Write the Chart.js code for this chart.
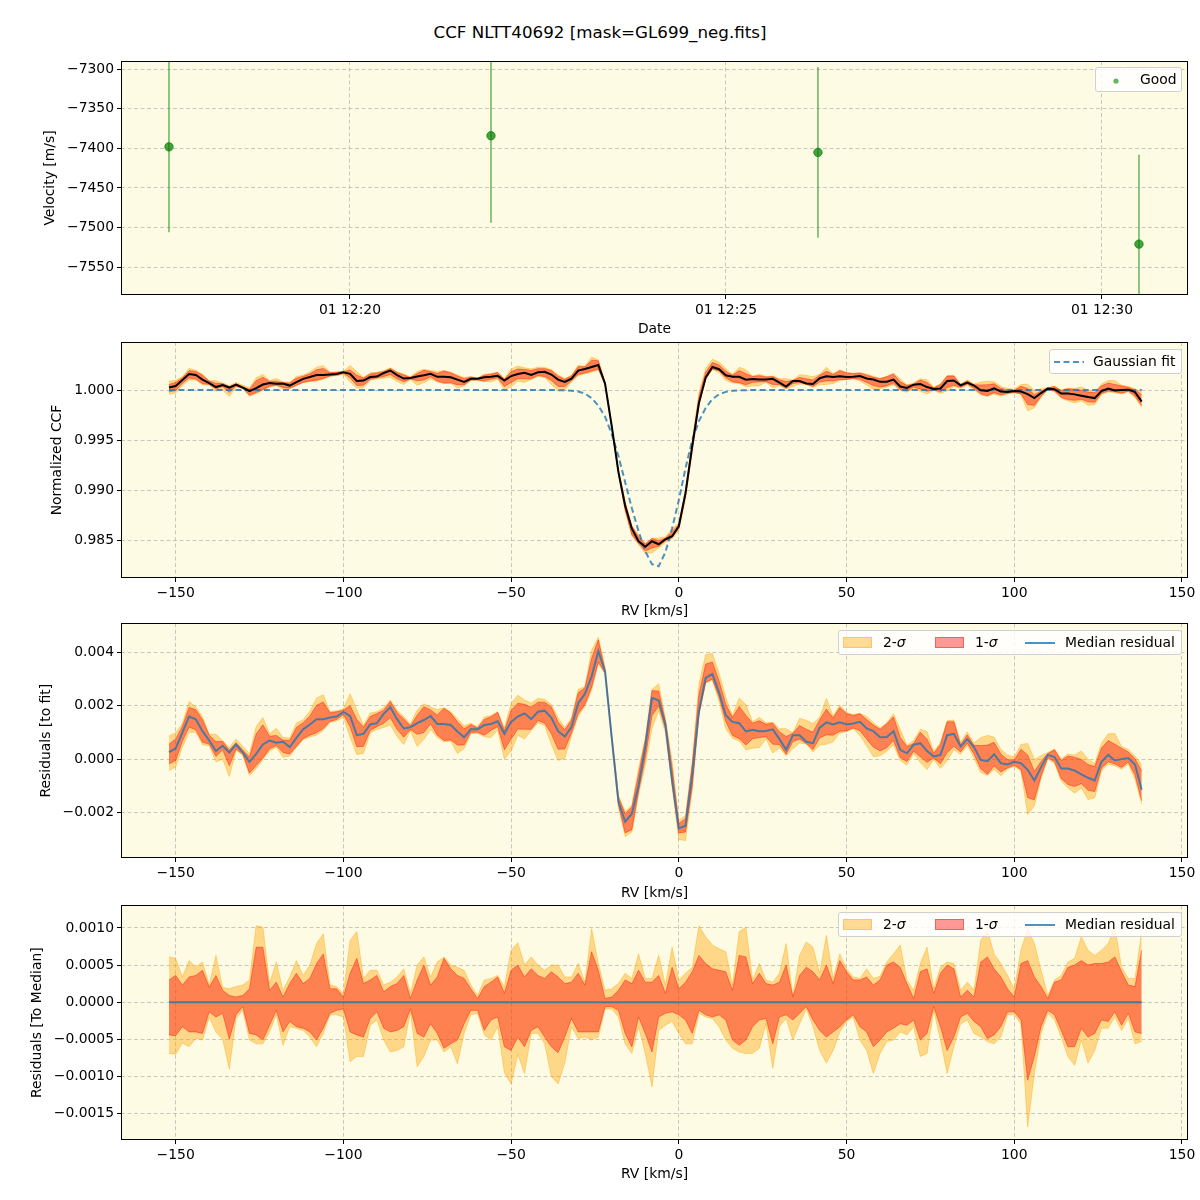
<!DOCTYPE html>
<html lang="en">
<head>
  <meta charset="UTF-8">
  <title>CCF NLTT40692</title>
  <script src="https://cdn.jsdelivr.net/npm/chart.js"></script>
  <style>
    html, body { margin: 0; padding: 0; background: #fff; }
    body { position: relative; width: 1200px; height: 1200px; overflow: hidden; font-family: "DejaVu Sans", sans-serif; color: #000; }
    canvas { position: absolute; left: 0; }
    .suptitle { position: absolute; left: 0; width: 1200px; top: 22px; line-height: 20px; text-align: center; font-size: 16.7px; }
    .leg { position: absolute; background: rgba(255,255,255,0.8); border: 1px solid #d0d0d0; border-radius: 3px; box-sizing: border-box; font-size: 13.9px; }
    .leg > * { position: absolute; }
    .leg span { line-height: 23px; top: 0; white-space: nowrap; }
    .patch { box-sizing: border-box; }
  </style>
</head>
<body>
  <div class="suptitle">CCF NLTT40692 [mask=GL699_neg.fits]</div>

  <canvas id="velChart" width="1200" height="310" style="top:40px"></canvas>
  <canvas id="ccfChart" width="1200" height="292" style="top:330px"></canvas>
  <canvas id="residChart" width="1200" height="292" style="top:612px"></canvas>
  <canvas id="medChart" width="1200" height="306" style="top:894px"></canvas>

  <!-- legends -->
  <div class="leg" style="left:1095px;top:67px;width:87px;height:25px">
    <svg style="left:15px;top:8px" width="10" height="10"><circle cx="5" cy="5" r="2.6" fill="rgba(0,128,0,0.6)"/></svg>
    <span style="left:44px">Good</span>
  </div>
  <div class="leg" style="left:1049px;top:349px;width:133px;height:25px">
    <svg style="left:4px;top:10px" width="30" height="4"><line x1="0" y1="2" x2="30" y2="2" stroke="rgba(31,119,180,0.8)" stroke-width="2" stroke-dasharray="6,3.5"/></svg>
    <span style="left:43px">Gaussian fit</span>
  </div>
  <div class="leg" style="left:838px;top:630px;width:344px;height:25px">
    <div class="patch" style="left:4px;top:6px;width:29px;height:11px;background:rgba(255,165,0,0.4);border:1px solid rgba(255,165,0,0.4)"></div>
    <span style="left:44px">2-<i>σ</i></span>
    <div class="patch" style="left:96px;top:6px;width:29px;height:11px;background:rgba(255,0,0,0.4);border:1px solid rgba(255,0,0,0.4)"></div>
    <span style="left:136px">1-<i>σ</i></span>
    <svg style="left:186px;top:10px" width="30" height="4"><line x1="0" y1="2" x2="30" y2="2" stroke="rgba(31,119,180,0.8)" stroke-width="2"/></svg>
    <span style="left:226px">Median residual</span>
  </div>
  <div class="leg" style="left:838px;top:912px;width:344px;height:25px">
    <div class="patch" style="left:4px;top:6px;width:29px;height:11px;background:rgba(255,165,0,0.4);border:1px solid rgba(255,165,0,0.4)"></div>
    <span style="left:44px">2-<i>σ</i></span>
    <div class="patch" style="left:96px;top:6px;width:29px;height:11px;background:rgba(255,0,0,0.4);border:1px solid rgba(255,0,0,0.4)"></div>
    <span style="left:136px">1-<i>σ</i></span>
    <svg style="left:186px;top:10px" width="30" height="4"><line x1="0" y1="2" x2="30" y2="2" stroke="rgba(31,119,180,0.8)" stroke-width="2"/></svg>
    <span style="left:226px">Median residual</span>
  </div>

  <script>
    // ---- top panel: RV per exposure (minutes after 12:00 on day 01) ----
    const obsTime = [17.593, 21.875, 26.223, 30.492];
    const obsVel = [-7398, -7384, -7405, -7521];
    const obsErr = [108, 110, 108, 113];
    const timeTicks = [20, 25, 30];
    const velTicks = [-7550, -7500, -7450, -7400, -7350, -7300];

    // ---- CCF grid (km/s) ----
    const rv = [
      -152, -150, -148, -146, -144, -142, -140, -138, -136, -134,
      -132, -130, -128, -126, -124, -122, -120, -118, -116, -114,
      -112, -110, -108, -106, -104, -102, -100, -98, -96, -94,
      -92, -90, -88, -86, -84, -82, -80, -78, -76, -74,
      -72, -70, -68, -66, -64, -62, -60, -58, -56, -54,
      -52, -50, -48, -46, -44, -42, -40, -38, -36, -34,
      -32, -30, -28, -26, -24, -22, -20, -18, -16, -14,
      -12, -10, -8, -6, -4, -2, 0, 2, 4, 6,
      8, 10, 12, 14, 16, 18, 20, 22, 24, 26,
      28, 30, 32, 34, 36, 38, 40, 42, 44, 46,
      48, 50, 52, 54, 56, 58, 60, 62, 64, 66,
      68, 70, 72, 74, 76, 78, 80, 82, 84, 86,
      88, 90, 92, 94, 96, 98, 100, 102, 104, 106,
      108, 110, 112, 114, 116, 118, 120, 122, 124, 126,
      128, 130, 132, 134, 136, 138
    ];

    // all following series in units of 1e-3
    // gaussian fit minus 1
    const fitOffset = [
      0, 0, 0, 0, 0, 0, 0, 0, 0, 0,
      0, 0, 0, 0, 0, 0, 0, 0, 0, 0,
      0, 0, 0, 0, 0, 0, 0, 0, 0, 0,
      0, 0, 0, 0, 0, 0, 0, 0, 0, 0,
      0, 0, 0, 0, 0, 0, 0, 0, 0, 0,
      0, 0, 0, 0, 0, 0, 0, 0, -0.01, -0.03,
      -0.06, -0.15, -0.35, -0.8, -1.55, -2.65, -4.4, -6.6, -9.2, -11.8,
      -14.1, -16.1, -17.4, -17.6, -16.2, -13.8, -11.0, -7.8, -5.0, -3.1,
      -1.8, -0.9, -0.42, -0.18, -0.07, -0.03, -0.01, 0, 0, 0,
      0, 0, 0, 0, 0, 0, 0, 0, 0, 0,
      0, 0, 0, 0, 0, 0, 0, 0, 0, 0,
      0, 0, 0, 0, 0, 0, 0, 0, 0, 0,
      0, 0, 0, 0, 0, 0, 0, 0, 0, 0,
      0, 0, 0, 0, 0, 0, 0, 0, 0, 0,
      0, 0, 0, 0, 0, 0
    ];

    // median residual to the fit
    const medianResid = [
      0.26, 0.40, 1.0, 1.6, 1.5, 1.05, 0.7, 0.3, 0.5, 0.25,
      0.55, 0.25, -0.1, 0.2, 0.55, 0.7, 0.62, 0.65, 0.45, 0.8,
      1.12, 1.3, 1.5, 1.5, 1.56, 1.6, 1.77, 1.62, 0.9, 0.95,
      1.3, 1.35, 1.7, 1.95, 1.5, 1.15, 1.2, 1.35, 1.47, 1.62,
      1.32, 1.32, 1.28, 1.04, 0.82, 1.12, 1.12, 1.28, 1.32, 1.42,
      0.95, 1.4, 1.6, 1.72, 1.5, 1.78, 1.82, 1.55, 1.05, 0.85,
      1.2, 2.1, 2.45, 3.1, 4.05, 3.3, 0.8, -1.6, -2.35, -2.05,
      -1.0, 0.45, 2.3, 2.2, 1.3, -0.8, -2.6, -2.5, -0.6, 1.8,
      3.05, 3.2, 2.5, 1.65, 1.4, 1.35, 1.04, 1.1, 1.05, 1.06,
      1.12, 0.75, 0.35, 0.9, 0.9, 0.65, 0.6, 1.18, 1.38, 1.3,
      1.38, 1.3, 1.34, 1.4, 1.15, 1.05, 0.82, 0.83, 1.05, 0.35,
      0.22, 0.54, 0.6, 0.3, 0.1, 0.16, 0.9, 0.95, 0.47, 0.75,
      0.45, -0.03, -0.08, 0.18, -0.15, -0.2, -0.1, -0.15, -0.4, -0.8,
      -0.3, 0.16, 0.08, -0.35, -0.35, -0.43, -0.57, -0.7, -0.8, -0.1,
      0.16, -0.05, 0.0, 0.04, -0.2, -1.15
    ];

    // percentile bands relative to the median
    const sig1Hi = [
      0.30, 0.36, 0.23, 0.34, 0.36, 0.43, 0.20, 0.36, 0.16, 0.09,
      0.07, 0.09, 0.18, 0.74, 0.74, 0.16, 0.27, 0.07, 0.25, 0.39,
      0.25, 0.32, 0.52, 0.65, 0.18, 0.18, 0.07, 0.39, 0.59, 0.25,
      0.30, 0.36, 0.14, 0.21, 0.25, 0.36, 0.05, 0.30, 0.50, 0.23,
      0.34, 0.59, 0.45, 0.36, 0.32, 0.18, 0.05, 0.21, 0.27, 0.34,
      0.12, 0.43, 0.50, 0.34, 0.45, 0.36, 0.32, 0.41, 0.34, 0.25,
      0.27, 0.39, 0.23, 0.68, 0.43, 0.05, 0.07, 0.16, 0.30, 0.25,
      0.43, 0.27, 0.27, 0.36, 0.12, 0.47, 0.18, 0.27, 0.41, 0.63,
      0.52, 0.45, 0.43, 0.41, 0.16, 0.63, 0.61, 0.25, 0.39, 0.25,
      0.23, 0.27, 0.50, 0.07, 0.36, 0.47, 0.41, 0.30, 0.50, 0.25,
      0.56, 0.41, 0.30, 0.30, 0.34, 0.23, 0.30, 0.50, 0.54, 0.47,
      0.25, 0.05, 0.41, 0.45, 0.12, 0.39, 0.50, 0.45, 0.07, 0.16,
      0.07, 0.54, 0.61, 0.45, 0.34, 0.18, 0.07, 0.52, 0.56, 0.34,
      0.21, 0.05, 0.27, 0.30, 0.47, 0.50, 0.56, 0.50, 0.52, 0.52,
      0.54, 0.61, 0.41, 0.23, 0.21, 0.70
    ];
    const sig1Lo = [
      -0.44, -0.45, -0.33, -0.40, -0.40, -0.42, -0.13, -0.20, -0.15, -0.50,
      -0.17, -0.06, -0.42, -0.44, -0.51, -0.31, -0.11, -0.40, -0.26, -0.33,
      -0.35, -0.40, -0.51, -0.35, -0.15, -0.11, -0.09, -0.40, -0.44, -0.47,
      -0.22, -0.13, -0.35, -0.40, -0.38, -0.33, -0.09, -0.42, -0.47, -0.29,
      -0.42, -0.62, -0.56, -0.51, -0.29, -0.11, -0.11, -0.38, -0.24, -0.20,
      -0.60, -0.65, -0.47, -0.60, -0.38, -0.33, -0.47, -0.60, -0.68, -0.47,
      -0.22, -0.40, -0.40, -0.40, -0.40, -0.06, -0.06, -0.11, -0.42, -0.60,
      -0.20, -0.42, -0.67, -0.20, -0.15, -0.13, -0.17, -0.24, -0.42, -0.11,
      -0.17, -0.20, -0.17, -0.24, -0.51, -0.58, -0.51, -0.33, -0.24, -0.22,
      -0.56, -0.20, -0.17, -0.24, -0.15, -0.06, -0.24, -0.38, -0.47, -0.40,
      -0.33, -0.24, -0.17, -0.33, -0.40, -0.60, -0.51, -0.40, -0.35, -0.29,
      -0.31, -0.24, -0.51, -0.42, -0.06, -0.33, -0.65, -0.47, -0.20, -0.15,
      -0.26, -0.33, -0.49, -0.44, -0.33, -0.13, -0.13, -0.24, -1.05, -0.73,
      -0.33, -0.11, -0.17, -0.38, -0.60, -0.60, -0.35, -0.47, -0.42, -0.24,
      -0.26, -0.13, -0.31, -0.15, -0.40, -0.42
    ];
    const sig2Hi = [
      0.61, 0.59, 0.34, 0.56, 0.47, 0.54, 0.23, 0.63, 0.20, 0.18,
      0.21, 0.23, 0.30, 1.03, 1.01, 0.25, 0.54, 0.16, 0.34, 0.56,
      0.36, 0.50, 0.79, 0.92, 0.23, 0.21, 0.12, 0.83, 0.95, 0.32,
      0.43, 0.43, 0.23, 0.27, 0.34, 0.45, 0.12, 0.50, 0.61, 0.34,
      0.54, 0.61, 0.50, 0.47, 0.43, 0.23, 0.09, 0.30, 0.32, 0.36,
      0.21, 0.70, 0.80, 0.50, 0.61, 0.50, 0.43, 0.50, 0.50, 0.34,
      0.34, 0.52, 0.27, 0.99, 0.52, 0.16, 0.18, 0.25, 0.39, 0.32,
      0.65, 0.32, 0.32, 0.63, 0.23, 0.74, 0.30, 0.39, 0.47, 1.03,
      0.88, 0.77, 0.72, 0.68, 0.23, 0.95, 1.01, 0.30, 0.52, 0.30,
      0.27, 0.39, 0.79, 0.09, 0.63, 0.81, 0.74, 0.39, 0.90, 0.32,
      0.65, 0.45, 0.34, 0.32, 0.45, 0.32, 0.35, 0.54, 0.65, 0.77,
      0.30, 0.16, 0.52, 0.74, 0.18, 0.47, 0.54, 0.52, 0.16, 0.27,
      0.16, 0.83, 0.97, 0.65, 0.52, 0.36, 0.18, 0.70, 0.99, 0.79,
      0.43, 0.09, 0.30, 0.36, 0.54, 0.59, 0.88, 0.70, 0.63, 0.70,
      0.79, 1.01, 0.47, 0.32, 0.32, 0.95
    ];
    const sig2Lo = [
      -0.69, -0.70, -0.55, -0.60, -0.49, -0.51, -0.20, -0.40, -0.50, -0.90,
      -0.22, -0.11, -0.51, -0.56, -0.56, -0.40, -0.17, -0.58, -0.33, -0.35,
      -0.38, -0.47, -0.60, -0.42, -0.17, -0.17, -0.20, -0.80, -0.73, -0.73,
      -0.31, -0.24, -0.51, -0.67, -0.65, -0.60, -0.13, -0.87, -0.73, -0.51,
      -0.51, -0.67, -0.60, -0.83, -0.42, -0.17, -0.15, -0.44, -0.51, -0.33,
      -0.95, -1.10, -0.70, -0.96, -0.42, -0.42, -0.56, -1.00, -1.10, -0.82,
      -0.33, -0.49, -0.47, -0.51, -0.47, -0.09, -0.09, -0.20, -0.56, -0.69,
      -0.33, -0.69, -1.14, -0.38, -0.31, -0.26, -0.42, -0.56, -0.56, -0.15,
      -0.20, -0.22, -0.33, -0.51, -0.62, -0.67, -0.69, -0.69, -0.62, -0.29,
      -0.89, -0.33, -0.22, -0.51, -0.29, -0.09, -0.33, -0.65, -0.82, -0.65,
      -0.40, -0.26, -0.20, -0.51, -0.65, -0.96, -0.69, -0.53, -0.51, -0.40,
      -0.44, -0.33, -0.73, -0.69, -0.11, -0.51, -0.96, -0.60, -0.29, -0.24,
      -0.42, -0.47, -0.53, -0.56, -0.47, -0.17, -0.17, -0.29, -1.68, -0.96,
      -0.42, -0.15, -0.24, -0.47, -0.73, -0.85, -0.51, -0.82, -0.65, -0.35,
      -0.35, -0.20, -0.38, -0.22, -0.56, -0.53
    ];

    const rvTicks = [-150, -100, -50, 0, 50, 100, 150];
    const ccfTicks = [0.985, 0.990, 0.995, 1.000];
    const residTicks = [-0.002, 0, 0.002, 0.004];
    const medTicks = [-0.0015, -0.001, -0.0005, 0, 0.0005, 0.001];

    // ---- styling ----
    const BG = '#fdfbe3';
    const GRID = 'rgba(176,176,176,0.7)';
    const ORANGE = 'rgba(255,165,0,0.4)';
    const RED = 'rgba(255,0,0,0.4)';
    const BLUE = 'rgba(31,119,180,0.8)';
    const font = { family: 'DejaVu Sans', size: 13.9 };
    const minus = s => String(s).replace('-', '\u2212');

    const framePlugin = {
      id: 'frame',
      beforeDraw(chart) {
        const { ctx, chartArea: a } = chart;
        ctx.save();
        ctx.fillStyle = BG;
        ctx.fillRect(a.left, a.top, a.right - a.left, a.bottom - a.top);
        ctx.restore();
      },
      afterDraw(chart) {
        const { ctx, chartArea: a } = chart;
        ctx.save();
        ctx.strokeStyle = '#000';
        ctx.lineWidth = 1;
        ctx.strokeRect(Math.round(a.left) + 0.5, Math.round(a.top) + 0.5,
          Math.round(a.right - a.left) - 1, Math.round(a.bottom - a.top) - 1);
        ctx.restore();
      }
    };

    function axis(o) {
      const left = o.pos === 'left';
      return {
        type: 'linear', position: o.pos, min: o.min, max: o.max,
        afterBuildTicks: s => { s.ticks = o.ticks.map(v => ({ value: v })); },
        afterFit: s => { if (left) s.width = o.size; else s.height = o.size; },
        grid: { color: GRID, lineWidth: 1, drawTicks: true, tickLength: 4, tickColor: '#000', tickWidth: 1 },
        border: { display: false, dash: [4, 2.5] },
        ticks: { color: '#000', font, padding: 3, maxRotation: 0, autoSkip: false, callback: o.fmt },
        title: {
          display: true, text: o.title, color: '#000', font,
          padding: left ? { top: o.tpad, bottom: 0 } : { top: 0, bottom: o.tpad }
        }
      };
    }

    function baseOptions(padTop, scales) {
      return {
        responsive: false, animation: false, events: [],
        layout: { padding: { top: padTop, right: 12, left: 0, bottom: 0 } },
        plugins: { legend: { display: false }, tooltip: { enabled: false } },
        elements: { point: { radius: 0 }, line: { tension: 0 } },
        scales
      };
    }

    const rvAxis = (size, tpad) => axis({
      pos: 'bottom', min: -166.3, max: 151.8, ticks: rvTicks, size, tpad,
      title: 'RV [km/s]', fmt: v => minus(v)
    });

    const series = (fn) => rv.map((x, i) => ({ x, y: fn(i) }));

    function bandSets(fn) {
      return [
        { data: series(i => fn(i, sig1Lo[i])), borderColor: RED, borderWidth: 1, fill: false },
        { data: series(i => fn(i, sig1Hi[i])), borderColor: RED, borderWidth: 1, backgroundColor: RED, fill: '-1' },
        { data: series(i => fn(i, sig2Lo[i])), borderColor: ORANGE, borderWidth: 1, fill: false },
        { data: series(i => fn(i, sig2Hi[i])), borderColor: ORANGE, borderWidth: 1, backgroundColor: ORANGE, fill: '-1' }
      ];
    }

    // ---- Velocity panel ----
    const errSegs = [];
    obsTime.forEach((t, i) => {
      errSegs.push({ x: t, y: obsVel[i] - obsErr[i] });
      errSegs.push({ x: t, y: obsVel[i] + obsErr[i] });
      errSegs.push({ x: t, y: null });
    });

    new Chart(document.getElementById('velChart'), {
      type: 'scatter',
      data: {
        datasets: [
          {
            label: 'Good', data: obsTime.map((t, i) => ({ x: t, y: obsVel[i] })),
            pointRadius: 4.2, pointBackgroundColor: 'rgba(0,128,0,0.72)',
            pointBorderColor: 'rgba(0,128,0,0.72)', pointBorderWidth: 1
          },
          {
            data: errSegs, showLine: true, spanGaps: false, pointRadius: 0,
            borderColor: 'rgba(0,128,0,0.55)', borderWidth: 1.6
          }
        ]
      },
      options: baseOptions(21, {
        x: axis({
          pos: 'bottom', min: 16.955, max: 31.144, ticks: timeTicks, size: 55, tpad: 12,
          title: 'Date', fmt: v => '01 12:' + String(v).padStart(2, '0')
        }),
        y: axis({
          pos: 'left', min: -7585.3, max: -7289.5, ticks: velTicks, size: 121, tpad: 42,
          title: 'Velocity [m/s]', fmt: v => minus(v)
        })
      }),
      plugins: [framePlugin]
    });

    // ---- Normalized CCF panel ----
    new Chart(document.getElementById('ccfChart'), {
      type: 'line',
      data: {
        datasets: [
          { data: series(i => 1 + (fitOffset[i] + medianResid[i]) / 1000), borderColor: '#000', borderWidth: 2, fill: false },
          { data: series(i => 1 + fitOffset[i] / 1000), borderColor: BLUE, borderWidth: 2, borderDash: [6, 3.5], fill: false },
          ...bandSets((i, s) => 1 + (fitOffset[i] + medianResid[i] + s) / 1000)
        ]
      },
      options: baseOptions(12, {
        x: rvAxis(44, 2),
        y: axis({
          pos: 'left', min: 0.98123, max: 1.0048, ticks: ccfTicks, size: 121, tpad: 49,
          title: 'Normalized CCF', fmt: v => v.toFixed(3)
        })
      }),
      plugins: [framePlugin]
    });

    // ---- Residuals to fit panel ----
    new Chart(document.getElementById('residChart'), {
      type: 'line',
      data: {
        datasets: [
          { data: series(i => medianResid[i] / 1000), borderColor: BLUE, borderWidth: 2, fill: false },
          ...bandSets((i, s) => (medianResid[i] + s) / 1000)
        ]
      },
      options: baseOptions(11, {
        x: rvAxis(46, 2),
        y: axis({
          pos: 'left', min: -0.003713, max: 0.0051, ticks: residTicks, size: 121, tpad: 38,
          title: 'Residuals [to fit]', fmt: v => minus(v.toFixed(3))
        })
      }),
      plugins: [framePlugin]
    });

    // ---- Residuals to median panel ----
    new Chart(document.getElementById('medChart'), {
      type: 'line',
      data: {
        datasets: [
          { data: series(() => 0), borderColor: BLUE, borderWidth: 2, fill: false },
          ...bandSets((i, s) => s / 1000)
        ]
      },
      options: baseOptions(11, {
        x: rvAxis(60, 17),
        y: axis({
          pos: 'left', min: -0.001855, max: 0.0013038, ticks: medTicks, size: 121, tpad: 29,
          title: 'Residuals [To Median]', fmt: v => minus(v.toFixed(4))
        })
      }),
      plugins: [framePlugin]
    });
  </script>
</body>
</html>
